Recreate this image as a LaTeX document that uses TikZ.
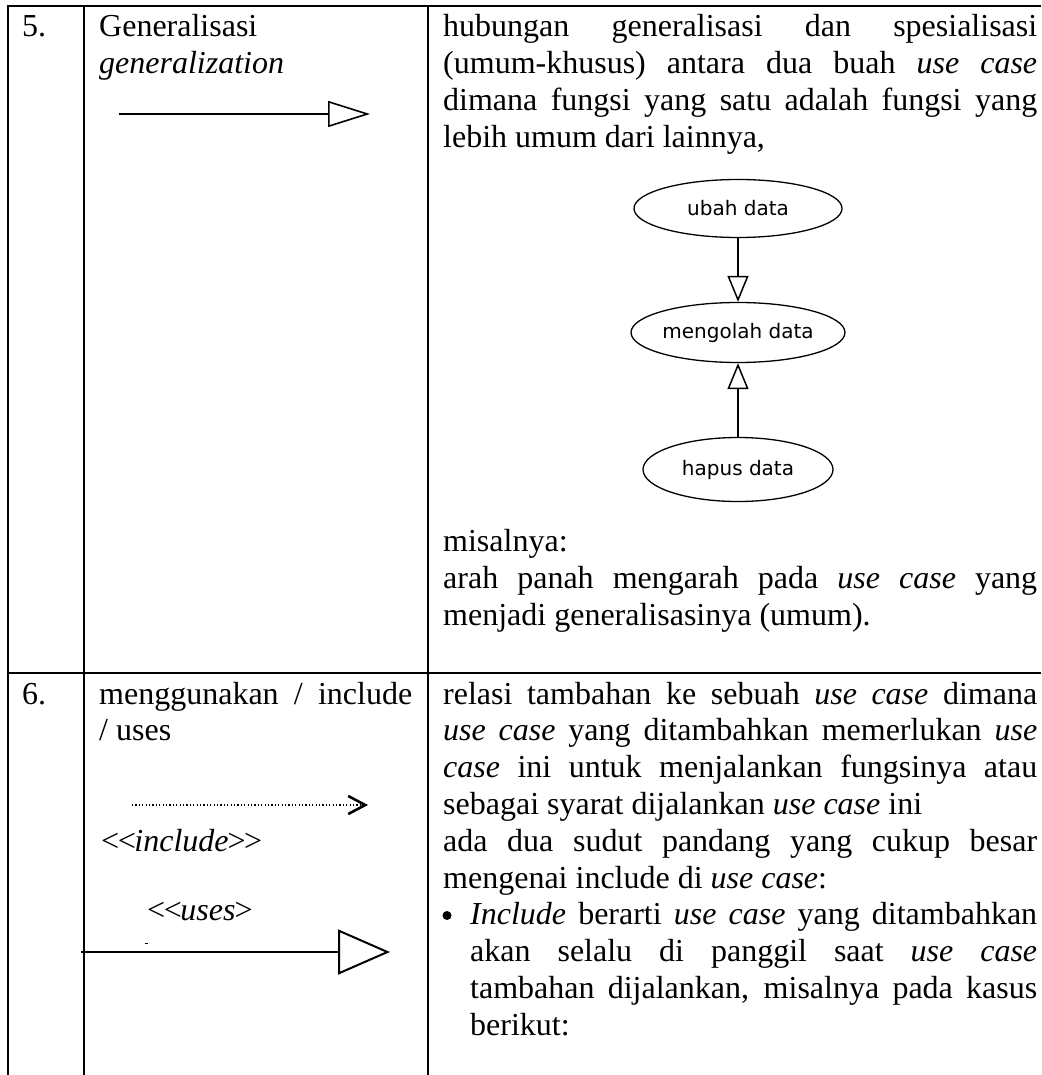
\documentclass[tikz,border=0pt]{standalone}
\usepackage{fontspec}
\setmainfont{Liberation Serif}
\newfontfamily\dgfont{DejaVu Sans}
\usetikzlibrary{arrows.meta,shapes.geometric}
% one justified line of a given width
\newcommand\jl[2]{\hbox to #1{#2}}

\begin{document}
\begin{tikzpicture}[x=1pt,y=-1pt,
  rule/.style={line width=2.7pt},
  txt/.style={anchor=base west,inner sep=0pt,font=\fontsize{32}{36.8}\selectfont},
  uc/.style={ellipse,draw,line width=1.3pt,inner sep=0pt,
    font=\dgfont\fontsize{20}{23}\selectfont,text=black},
  gen/.style={line width=1.5pt,-{Triangle[open,length=26pt,width=21pt]}},
]
\useasboundingbox (0,0) rectangle (1041,1075);

% table rules
\draw[rule] (6.7,6) -- (1041,6);
\draw[rule] (6.7,673) -- (1041,673);
\draw[rule] (8,6) -- (8,1075);
\draw[rule] (84,6) -- (84,1075);
\draw[rule] (428,6) -- (428,1075);

% ---- row 5 : generalization ----
\node[txt] (n5) at (22,36.7) {5.};
\node[txt] (c5a) at (99,36.7) {Generalisasi};
\node[txt] (c5b) at (99,73.5) {\textit{generalization}};
\coordinate (g1) at (119,114);
\coordinate (g2) at (370,114);
\draw[line width=1.6pt,-{Triangle[open,length=42pt,width=26pt]}] (g1) -- (g2);

\node[txt] (p1a) at (443,36.7) {\jl{594pt}{hubungan generalisasi dan spesialisasi}};
\node[txt] (p1b) at (443,73.5) {\jl{594pt}{(umum-khusus) antara dua buah \textit{use case}}};
\node[txt] (p1c) at (443,110.3) {\jl{594pt}{dimana fungsi yang satu adalah fungsi yang}};
\node[txt] (p1d) at (443,147.1) {lebih umum dari lainnya,};

% use case example
\node[uc,minimum width=208pt,minimum height=58pt] (ubah) at (738,208.5) {ubah data};
\node[uc,minimum width=190pt,minimum height=60pt] (olah) at (738,332.5) {mengolah data};
\node[uc,minimum width=190pt,minimum height=64pt] (hapus) at (738,469.5) {hapus data};
\draw[gen] (ubah) -- (olah);
\draw[gen] (hapus) -- (olah);

\node[txt] (p2a) at (443,551.6) {misalnya:};
\node[txt] (p3a) at (443,588.4) {\jl{594pt}{arah panah mengarah pada \textit{use case} yang}};
\node[txt] (p3b) at (443,625.2) {menjadi generalisasinya (umum).};

% ---- row 6 : include / uses ----
\node[txt] (n6) at (22,704) {6.};
\node[txt] (c6a) at (99,704) {\jl{313pt}{menggunakan / include}};
\node[txt] (c6b) at (99,740.8) {/ uses};
\coordinate (i1) at (132,805);
\coordinate (i2) at (368,805);
\draw[line width=1.4pt,dash pattern=on 1.2pt off 2.2pt,
  -{Straight Barb[length=17pt,width=18pt,line width=2.6pt]}] (i1) -- (i2);
\node[txt] (c6c) at (99,851)
  {\textit{<\kern-5pt<\kern-3pt include\kern-3pt>\kern-5pt>}};
\node[txt] (c6d) at (145,920)
  {\textit{<\kern-5pt<\kern-3pt uses\kern-3pt>}};
\fill (145,943) rectangle (148,944);
\coordinate (u1) at (81,952);
\coordinate (u2) at (390,952);
\draw[line width=2pt,-{Triangle[open,length=52pt,width=45pt]}] (u1) -- (u2);

\node[txt] (q1) at (443,704) {\jl{594pt}{relasi tambahan ke sebuah \textit{use case} dimana}};
\node[txt] (q2) at (443,740.8) {\jl{594pt}{\textit{use case} yang ditambahkan memerlukan \textit{use}}};
\node[txt] (q3) at (443,777.6) {\jl{594pt}{\textit{case} ini untuk menjalankan fungsinya atau}};
\node[txt] (q4) at (443,814.4) {sebagai syarat dijalankan \textit{use case} ini};
\node[txt] (q5) at (443,851.2) {\jl{594pt}{ada dua sudut pandang yang cukup besar}};
\node[txt] (q6) at (443,888) {mengenai include di \textit{use case}:};
% list bullet
\node[circle,fill,inner sep=0pt,minimum size=9pt] (bul) at (447,915.5) {};
\node[txt] (q7) at (470,924.8) {\jl{567pt}{\textit{Include} berarti \textit{use case} yang ditambahkan}};
\node[txt] (q8) at (470,961.6) {\jl{567pt}{akan selalu di panggil saat \textit{use case}}};
\node[txt] (q9) at (470,998.4) {\jl{567pt}{tambahan dijalankan, misalnya pada kasus}};
\node[txt] (q10) at (470,1035.2) {berikut:};
\end{tikzpicture}
\end{document}
